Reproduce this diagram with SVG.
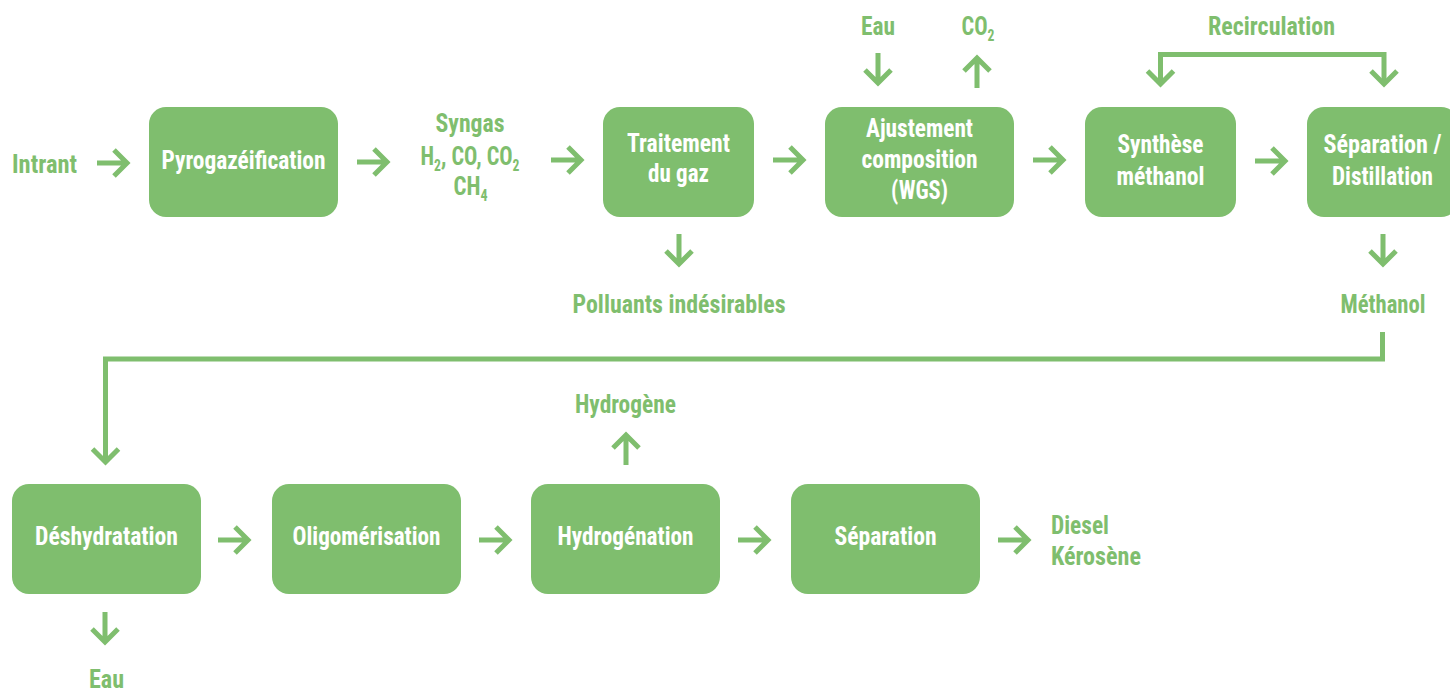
<svg xmlns="http://www.w3.org/2000/svg" width="1450" height="691" viewBox="0 0 1450 691">
  <style>
    text { font-family: "Roboto Condensed", "DejaVu Sans Condensed", "Liberation Sans Narrow", Roboto, sans-serif; font-weight: 700; font-size: 26px; }
    .lbl { fill: #7FBE6E; }
    .in { fill: #FFFFFF; text-anchor: middle; }
    .mid { text-anchor: middle; }
    .sub { font-size: 16px; }
    .box { fill: #7FBE6E; }
    .conn { fill: none; stroke: #7FBE6E; stroke-width: 5; stroke-linejoin: miter; }
  </style>
  <defs>
    <!-- arrow pointing right, tail at origin -->
    <path id="arr" d="M0 0H30M17 -13L30 0L17 13"/>
  </defs>
  <rect width="1450" height="691" fill="#FFFFFF"/>

  <g id="connectors" class="conn">
    <use href="#arr" transform="translate(97,163)"/>
    <use href="#arr" transform="translate(357,162)"/>
    <use href="#arr" transform="translate(551,160)"/>
    <use href="#arr" transform="translate(773,160)"/>
    <use href="#arr" transform="translate(1033,160)"/>
    <use href="#arr" transform="translate(1255,161)"/>
    <use href="#arr" transform="translate(679,234) rotate(90)"/>
    <use href="#arr" transform="translate(878,53) rotate(90)"/>
    <use href="#arr" transform="translate(977,88) rotate(-90)"/>
    <use href="#arr" transform="translate(1383,234) rotate(90)"/>
    <!-- recirculation loop -->
    <path d="M1160.5 84V54.5H1384V84"/>
    <path d="M1147.5 71L1160.5 84L1173.5 71"/>
    <path d="M1371 71L1384 84L1397 71"/>
    <!-- methanol to dehydration -->
    <path d="M1382.5 332V359H105.5V462"/>
    <path d="M92.5 449L105.5 462L118.5 449"/>
    <use href="#arr" transform="translate(105,612) rotate(90)"/>
    <use href="#arr" transform="translate(626,465) rotate(-90)"/>
    <use href="#arr" transform="translate(218,540)"/>
    <use href="#arr" transform="translate(479,540)"/>
    <use href="#arr" transform="translate(738,540)"/>
    <use href="#arr" transform="translate(998,540)"/>
  </g>

  <g id="n-intrant"><text class="lbl" x="12" y="173" textLength="65" lengthAdjust="spacingAndGlyphs">Intrant</text></g>

  <g id="n-pyro">
    <rect class="box" x="149" y="107" width="189" height="110" rx="17"/>
    <text class="in" x="243.5" y="169" textLength="164" lengthAdjust="spacingAndGlyphs">Pyrogazéification</text>
  </g>

  <g id="n-syngas" class="lbl">
    <text class="mid" x="470" y="132" textLength="69" lengthAdjust="spacingAndGlyphs">Syngas</text>
    <text class="mid" x="470" y="165" textLength="99" lengthAdjust="spacingAndGlyphs">H<tspan class="sub" dy="6">2</tspan><tspan dy="-6">, CO, CO</tspan><tspan class="sub" dy="6">2</tspan></text>
    <text class="mid" x="470.5" y="195" textLength="34" lengthAdjust="spacingAndGlyphs">CH<tspan class="sub" dy="6">4</tspan></text>
  </g>

  <g id="n-traitement">
    <rect class="box" x="603" y="107" width="151" height="110" rx="17"/>
    <text class="in" x="678.5" y="152" textLength="103" lengthAdjust="spacingAndGlyphs">Traitement</text>
    <text class="in" x="678.5" y="182" textLength="61" lengthAdjust="spacingAndGlyphs">du gaz</text>
  </g>

  <g id="n-polluants"><text class="lbl mid" x="679" y="313" textLength="213" lengthAdjust="spacingAndGlyphs">Polluants indésirables</text></g>

  <g id="n-eau-in"><text class="lbl mid" x="878" y="35" textLength="34" lengthAdjust="spacingAndGlyphs">Eau</text></g>
  <g id="n-co2"><text class="lbl mid" x="978" y="35" textLength="33" lengthAdjust="spacingAndGlyphs">CO<tspan class="sub" dy="6">2</tspan></text></g>

  <g id="n-ajustement">
    <rect class="box" x="825" y="107" width="189" height="110" rx="17"/>
    <text class="in" x="919.5" y="137" textLength="107" lengthAdjust="spacingAndGlyphs">Ajustement</text>
    <text class="in" x="919.5" y="168" textLength="116" lengthAdjust="spacingAndGlyphs">composition</text>
    <text class="in" x="919.5" y="199" textLength="57" lengthAdjust="spacingAndGlyphs">(WGS)</text>
  </g>

  <g id="n-recirculation"><text class="lbl mid" x="1271.5" y="35" textLength="127" lengthAdjust="spacingAndGlyphs">Recirculation</text></g>

  <g id="n-synthese">
    <rect class="box" x="1085" y="107" width="151" height="110" rx="17"/>
    <text class="in" x="1160.5" y="153" textLength="86" lengthAdjust="spacingAndGlyphs">Synthèse</text>
    <text class="in" x="1160.5" y="185" textLength="88" lengthAdjust="spacingAndGlyphs">méthanol</text>
  </g>

  <g id="n-separation-distillation">
    <rect class="box" x="1307" y="107" width="151" height="110" rx="17"/>
    <text class="in" x="1382.5" y="153" textLength="118" lengthAdjust="spacingAndGlyphs">Séparation /</text>
    <text class="in" x="1382.5" y="185" textLength="101" lengthAdjust="spacingAndGlyphs">Distillation</text>
  </g>

  <g id="n-methanol"><text class="lbl mid" x="1383" y="313" textLength="85" lengthAdjust="spacingAndGlyphs">Méthanol</text></g>

  <g id="n-deshydratation">
    <rect class="box" x="12" y="484" width="189" height="110" rx="17"/>
    <text class="in" x="106.5" y="545" textLength="143" lengthAdjust="spacingAndGlyphs">Déshydratation</text>
  </g>

  <g id="n-eau-out"><text class="lbl mid" x="106.5" y="688" textLength="35" lengthAdjust="spacingAndGlyphs">Eau</text></g>

  <g id="n-oligomerisation">
    <rect class="box" x="272" y="484" width="189" height="110" rx="17"/>
    <text class="in" x="366.5" y="545" textLength="148" lengthAdjust="spacingAndGlyphs">Oligomérisation</text>
  </g>

  <g id="n-hydrogene"><text class="lbl mid" x="625.5" y="413" textLength="101" lengthAdjust="spacingAndGlyphs">Hydrogène</text></g>

  <g id="n-hydrogenation">
    <rect class="box" x="531" y="484" width="189" height="110" rx="17"/>
    <text class="in" x="625.5" y="545" textLength="136" lengthAdjust="spacingAndGlyphs">Hydrogénation</text>
  </g>

  <g id="n-separation">
    <rect class="box" x="791" y="484" width="189" height="110" rx="17"/>
    <text class="in" x="885.5" y="545" textLength="102" lengthAdjust="spacingAndGlyphs">Séparation</text>
  </g>

  <g id="n-produits" class="lbl">
    <text x="1051" y="534" textLength="58" lengthAdjust="spacingAndGlyphs">Diesel</text>
    <text x="1051" y="565" textLength="90" lengthAdjust="spacingAndGlyphs">Kérosène</text>
  </g>
</svg>
